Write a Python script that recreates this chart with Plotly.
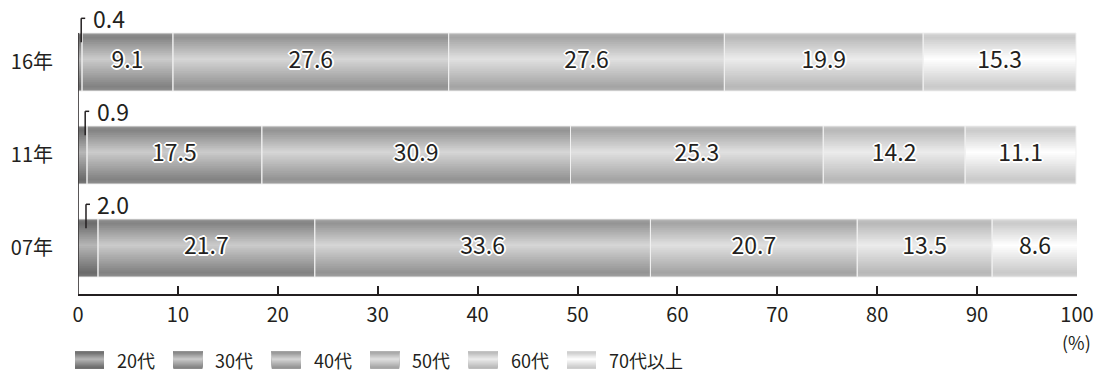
import plotly.graph_objects as go

# Survey years (bottom to top) and age-group shares (%)
years = ["07年", "11年", "16年"]
age_groups = ["20代", "30代", "40代", "50代", "60代", "70代以上"]
share_07 = [2.0, 21.7, 33.6, 20.7, 13.5, 8.6]
share_11 = [0.9, 17.5, 30.9, 25.3, 14.2, 11.1]
share_16 = [0.4, 9.1, 27.6, 27.6, 19.9, 15.3]
x_ticks = [0, 10, 20, 30, 40, 50, 60, 70, 80, 90, 100]

shares = [share_07, share_11, share_16]

# metallic shading per age group: (edge colour, highlight colour)
shades = [
    ("#6b6b6b", "#b6b6b6"),
    ("#828282", "#cbcbcb"),
    ("#939393", "#d6d6d6"),
    ("#a4a4a4", "#e0e0e0"),
    ("#b8b8b8", "#ececec"),
    ("#cacaca", "#ffffff"),
]

INK = "#231f20"
FONT = "Noto Sans CJK JP"
HALF = 0.312          # half bar thickness in y units
Y_BOTTOM = -0.4946
Y_TOP = 2.667
N_STRIPS = 32         # vertical resolution of the bar shading


def mix(c1, c2, t):
    a = [int(c1[i:i + 2], 16) for i in (1, 3, 5)]
    b = [int(c2[i:i + 2], 16) for i in (1, 3, 5)]
    return "#" + "".join(f"{round(a[k] + (b[k] - a[k]) * t):02x}" for k in range(3))


def shade_at(edge, mid, t):
    """Colour at relative height t (0 = bottom, 1 = top) of a bar."""
    s = 1 - t  # distance from top
    stops = [(0.0, 0.3), (0.07, 0.0), (0.45, 1.0), (0.92, 0.0), (1.0, 0.2)]
    for (s0, v0), (s1, v1) in zip(stops, stops[1:]):
        if s <= s1:
            f = (s - s0) / (s1 - s0) if s1 > s0 else 0
            return mix(edge, mid, v0 + (v1 - v0) * f)
    return mix(edge, mid, stops[-1][1])


fig = go.Figure()

# flatten segments for the bar traces
seg_y, seg_x, seg_base, seg_group = [], [], [], []
for yi, row in enumerate(shares):
    left = 0.0
    for gi, v in enumerate(row):
        seg_y.append(yi)
        seg_x.append(v)
        seg_base.append(left)
        seg_group.append(gi)
        left += v

# shaded bars: each strip starts a little higher and is drawn over the previous one
step = 2 * HALF / N_STRIPS
for k in range(N_STRIPS):
    t = (k + 0.5) / N_STRIPS
    fig.add_trace(go.Bar(
        orientation="h", y=seg_y, x=seg_x, base=seg_base,
        width=2 * HALF - k * step, offset=-HALF + k * step,
        marker=dict(color=[shade_at(*shades[g], t) for g in seg_group],
                    line=dict(width=0)),
        hoverinfo="skip", showlegend=False, xaxis="x", yaxis="y",
    ))

# thin light separators around each segment
fig.add_trace(go.Bar(
    orientation="h", y=seg_y, x=seg_x, base=seg_base,
    width=2 * HALF, offset=-HALF,
    marker=dict(color="rgba(0,0,0,0)", line=dict(color="rgba(240,240,240,0.95)", width=1)),
    hoverinfo="skip", showlegend=False, xaxis="x", yaxis="y",
))

outline = ", ".join(f"{dx}px {dy}px 0 #ffffff" for dx, dy in
                    [(1, 1), (-1, -1), (1, -1), (-1, 1), (0, 1), (1, 0), (0, -1), (-1, 0),
                     (2, 0), (-2, 0), (0, 2), (0, -2)])

lab_x, lab_y, lab_t = [], [], []
for yi, row in enumerate(shares):
    left = 0.0
    for v in row:
        if v >= 3:
            lab_x.append(left + v / 2)
            lab_y.append(yi)
            lab_t.append(f"{v:.1f}")
        else:
            # small share: bracket leader and label above the bar
            lx = min(v * 0.8, 0.8)
            ytop = yi + 0.47
            fig.add_shape(type="line", xref="x", yref="y",
                          x0=lx, x1=lx, y0=yi + HALF - 0.1, y1=ytop,
                          line=dict(color=INK, width=1.5))
            fig.add_shape(type="line", xref="x", yref="y",
                          x0=lx, x1=lx + 0.4, y0=ytop, y1=ytop,
                          line=dict(color=INK, width=1.5))
            fig.add_annotation(x=lx + 0.95, y=ytop, xref="x", yref="y",
                               text=f"{v:.1f}", showarrow=False, xanchor="left",
                               yanchor="middle",
                               font=dict(family=FONT, size=23, color=INK))
        left += v

fig.add_trace(go.Scatter(
    x=lab_x, y=lab_y, mode="text", text=lab_t,
    textfont=dict(family=FONT, size=23, color=INK, shadow=outline),
    hoverinfo="skip", showlegend=False, xaxis="x", yaxis="y",
))

# left axis line, spanning up to the top bar
fig.add_shape(type="line", xref="x", yref="y", x0=0, x1=0,
              y0=Y_BOTTOM, y1=len(years) - 1 + HALF,
              line=dict(color=INK, width=1.5))

# legend drawn on its own small axes so swatches keep the shading
leg_left = [75 + 98.4 * gi for gi in range(len(age_groups))]
leg_step = 1.0 / N_STRIPS
for k in range(N_STRIPS):
    t = (k + 0.5) / N_STRIPS
    fig.add_trace(go.Bar(
        orientation="h", y=[0.5] * len(age_groups), x=[29] * len(age_groups),
        base=leg_left, width=1.0 - k * leg_step, offset=-0.5 + k * leg_step,
        marker=dict(color=[shade_at(*shades[g], t) for g in range(len(age_groups))],
                    line=dict(width=0)),
        hoverinfo="skip", showlegend=False, xaxis="x2", yaxis="y2",
    ))
for gi, name in enumerate(age_groups):
    fig.add_annotation(x=leg_left[gi] + 40, y=0.5, xref="x2", yref="y2", text=name,
                       showarrow=False, xanchor="left", yanchor="middle",
                       font=dict(family=FONT, size=18, color=INK))

fig.add_annotation(x=1093 / 1101, y=(372 - 342) / 372, xref="paper", yref="paper",
                   text="(%)", showarrow=False, xanchor="right", yanchor="middle",
                   font=dict(family=FONT, size=18, color=INK))

fig.update_layout(
    width=1101, height=372,
    margin=dict(l=0, r=0, t=0, b=0),
    paper_bgcolor="white", plot_bgcolor="white",
    barmode="overlay",
    xaxis=dict(domain=[78 / 1101, 1077 / 1101], range=[0, 100],
               tickvals=x_ticks, ticktext=[str(t) for t in x_ticks],
               ticks="inside", ticklen=8, tickwidth=1.5, tickcolor=INK,
               showline=True, linecolor=INK, linewidth=1.5, automargin=False,
               showgrid=False, zeroline=False, ticklabelstandoff=2,
               tickfont=dict(family=FONT, size=20, color=INK)),
    yaxis=dict(domain=[78 / 372, 1], range=[Y_BOTTOM, Y_TOP],
               tickvals=list(range(len(years))), ticktext=years,
               ticks="", showline=False, showgrid=False, zeroline=False,
               ticklabelstandoff=24, automargin=False,
               tickfont=dict(family=FONT, size=20, color=INK)),
    xaxis2=dict(domain=[0, 1], range=[0, 1101], visible=False, anchor="y2",
                automargin=False),
    yaxis2=dict(domain=[3 / 372, 21 / 372], range=[0, 1], visible=False, anchor="x2",
                automargin=False),
)

fig.write_html("out.html")
